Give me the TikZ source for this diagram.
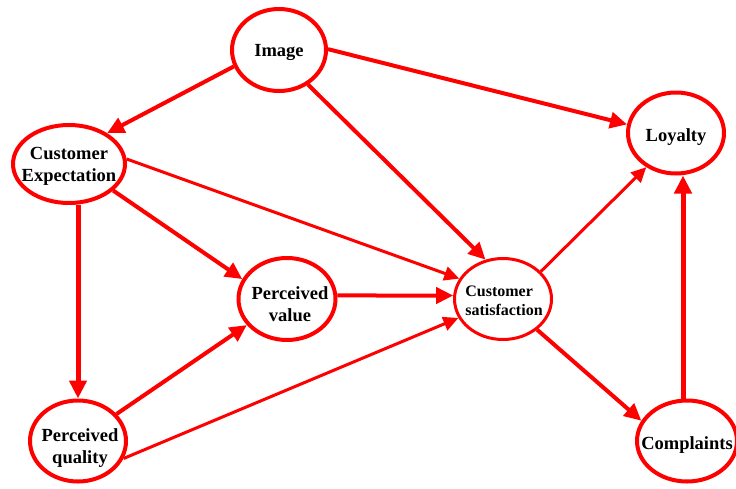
\documentclass[tikz,border=0pt]{standalone}
\usepackage{fontspec}
\setmainfont{Liberation Serif}
\usetikzlibrary{shapes.geometric,arrows.meta}
\definecolor{rred}{RGB}{255,0,0}
\begin{document}
\begin{tikzpicture}[x=1pt,y=-1pt,
  ell/.style={ellipse, draw=rred, line width=4pt, inner sep=0pt},
  lbl/.style={inner sep=0pt, align=center, font=\fontsize{18.5}{22}\selectfont\bfseries},
  conn/.style={draw=rred, line width=4pt, -{Triangle[length=17pt,width=16pt]}},
  thinconn/.style={draw=rred, line width=3pt, -{Triangle[length=15pt,width=14pt]}},
  thickconn/.style={draw=rred, line width=5pt, -{Triangle[length=18pt,width=17pt]}}]
\useasboundingbox (0,0) rectangle (736,488);
\node[ell, minimum width=94pt, minimum height=82pt] (img) at (279,50) {};
\node[lbl] (imgt) at ([yshift=-2pt]img.center) {Image};
\node[ell, minimum width=112pt, minimum height=78pt] (ce) at (69,164) {};
\node[lbl] (cet) at ([yshift=-2pt]ce.center) {Customer\\Expectation};
\node[ell, minimum width=97pt, minimum height=82pt] (pv) at (287,299) {};
\node[lbl] (pvt) at ([xshift=3pt,yshift=-5pt]pv.center) {Perceived\\value};
\node[ell, minimum width=96pt, minimum height=81pt] (pq) at (78,441) {};
\node[lbl] (pqt) at ([xshift=2pt,yshift=-7pt]pq.center) {Perceived\\quality};
\node[ell, line width=3pt, minimum width=97pt, minimum height=81pt] (cs) at (503,299) {};
\node[lbl, align=left, font=\fontsize{16}{19}\selectfont\bfseries] (cst) at ([xshift=1pt,yshift=-2pt]cs.center) {Customer\\satisfaction};
\node[ell, minimum width=100pt, minimum height=81pt] (comp) at (687,441) {};
\node[lbl] (compt) at ([yshift=-4pt]comp.center) {Complaints};
\node[ell, minimum width=96pt, minimum height=81pt] (loy) at (676,133) {};
\node[lbl] (loyt) at ([yshift=-4pt]loy.center) {Loyalty};

\draw[conn] (img.200) -- (ce.39);
\draw[conn] (img.1) -- (loy.170);
\draw[conn] (img.-50) -- (cs.114);
\draw[conn] (ce.-31) -- (pv.156);
\draw[thinconn] (ce.5) -- (cs.155);
\draw[thickconn] (ce.south -| pq.north) -- (pq.north);
\draw[conn] (pq.35) -- (pv.213);
\draw[thinconn] (pq.-21) -- (cs.203);
\draw[conn] (pv.4) -- (cs.176);
\draw[thinconn] (cs.36) -- (loy.229);
\draw[conn] (cs.-42) -- (comp.156);
\draw[thickconn] ([xshift=-4pt]comp.north) -- ([xshift=-4pt]comp.north |- loy.south);
\end{tikzpicture}
\end{document}
